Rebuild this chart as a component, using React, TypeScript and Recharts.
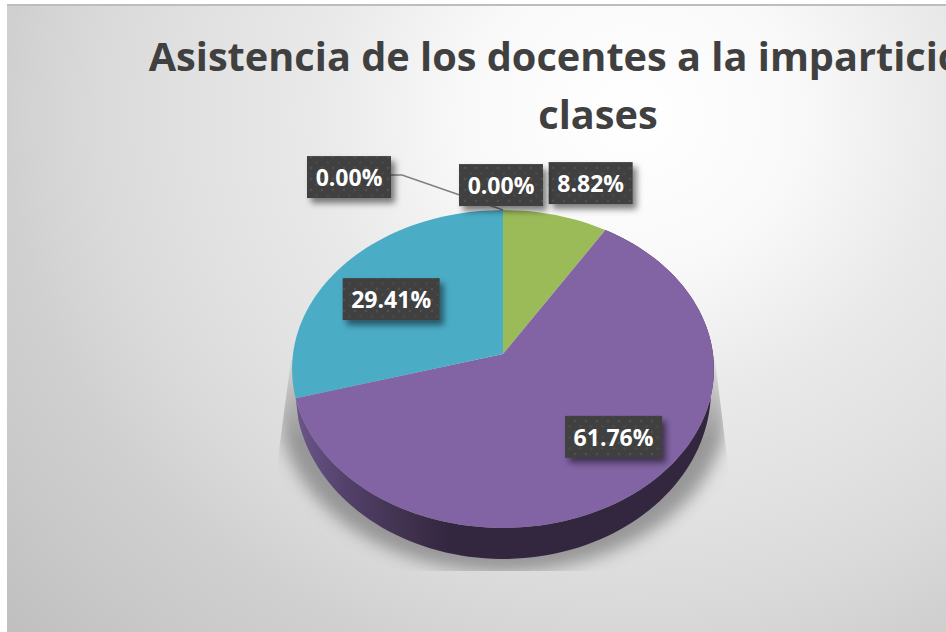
import React from "react";
import { PieChart, Pie, Cell } from "recharts";

const categories = ["Categoria 1", "Categoria 2", "Categoria 3", "Categoria 4", "Categoria 5"];
const shares = [8.82, 61.76, 29.41, 0, 0];
const sliceColors = ["#9BBB59", "#8264A4", "#4BACC6", "#F79646", "#2C4D75"];
const titleLines = ["Asistencia de los docentes a la impartición de", "clases"];

const data = categories.map((name, i) => ({ name, value: shares[i] }));

// projection of the flat pie onto the tilted 3D disc
const TILT = 0.75;
const PERSPECTIVE = 0.0943;
const BASE_RADIUS = 0.986;
const BASE_TILT = 0.809;
const BASE_DROP = 20;

// label anchor along the radius, then a nudge in px
const labelPlacement = [
  { f: 1, dx: 35, dy: -32 },
  { f: 0.7, dx: 17, dy: -10 },
  { f: 0.7, dx: 1, dy: 9 },
  { f: 1, dx: -154, dy: -33 },
  { f: 1, dx: -2, dy: -25 },
];

function project(angle: number, radius: number, tiltedBy: number, cx: number, cy: number, f = 1) {
  const a = (angle * Math.PI) / 180;
  const u = Math.cos(a) * f;
  const v = -Math.sin(a) * f;
  const w = 1 - PERSPECTIVE * v;
  return { x: cx + (radius * u) / w, y: cy + (radius * tiltedBy * v) / w };
}

function arcPoints(start: number, end: number, radius: number, tiltedBy: number, cx: number, cy: number) {
  const n = Math.max(2, Math.ceil(Math.abs(end - start) / 2));
  const pts = [];
  for (let i = 0; i <= n; i++) {
    const p = project(start + ((end - start) * i) / n, radius, tiltedBy, cx, cy);
    pts.push(`${p.x.toFixed(2)} ${p.y.toFixed(2)}`);
  }
  return pts;
}

function Slice3D(props: any) {
  const { cx, cy, outerRadius, startAngle, endAngle, fill, index } = props;
  if (startAngle === endAngle) return null;
  const top = arcPoints(startAngle, endAngle, outerRadius, TILT, cx, cy);
  const base = arcPoints(endAngle, startAngle, outerRadius * BASE_RADIUS, BASE_TILT, cx, cy + BASE_DROP);
  return (
    <g>
      {index === 1 && <path d={`M${top.join("L")}L${base.join("L")}Z`} fill="url(#wallShade)" />}
      <path d={`M${cx} ${cy}L${top.join("L")}Z`} fill={fill} />
    </g>
  );
}

function DataLabel(props: any) {
  const { cx, cy, midAngle, outerRadius, index, value } = props;
  const place = labelPlacement[index];
  const p = project(midAngle, outerRadius, TILT, cx, cy, place.f);
  const x = p.x + place.dx;
  const y = p.y + place.dy;
  const text = `${Number(value).toFixed(2)}%`;
  const w = text.length * 13 + 19;
  const rim = project(midAngle, outerRadius, TILT, cx, cy);
  return (
    <g>
      {index === 3 && (
        <polyline
          points={`${x + w / 2} ${y - 2} ${x + w / 2 + 11} ${y - 2} ${rim.x} ${rim.y}`}
          fill="none"
          stroke="#7f7f7f"
          strokeWidth={1.5}
        />
      )}
      <rect x={x - w / 2} y={y - 21} width={w} height={42} fill="#404040" filter="url(#boxShadow)" />
      <rect x={x - w / 2} y={y - 21} width={w} height={42} fill="url(#boxDots)" />
      <text
        x={x}
        y={y + 9}
        textAnchor="middle"
        fill="#ffffff"
        fontFamily="'Open Sans', sans-serif"
        fontWeight={700}
        fontSize={23}
      >
        {text}
      </text>
    </g>
  );
}

export default function App() {
  return (
    <div style={{ position: "absolute", left: 0, top: 0, width: 946, height: 632, overflow: "hidden", background: "#ffffff" }}>
      <div
        style={{
          position: "absolute",
          left: 7,
          top: 4,
          width: 939,
          height: 626,
          borderTop: "2px solid #bdbdbd",
          background:
            "radial-gradient(ellipse 836px 760px at 626px 110px, #ffffff 0%, #f9f9f9 20%, #e9e9e9 38%, #e1e1e1 53%, #dadada 64%, #d4d4d4 71%, #d0d0d0 75%, #c9c9c9 87%, #c0c0c0 100%)",
        }}
      />
      <div style={{ position: "absolute", left: 0, top: 0 }}>
        <PieChart width={946} height={632} margin={{ top: 0, right: 0, bottom: 0, left: 0 }}>
          <defs>
            <linearGradient id="wallShade" gradientUnits="userSpaceOnUse" x1="297" y1="0" x2="450" y2="0">
              <stop offset="0" stopColor="#6b5589" />
              <stop offset="0.35" stopColor="#513f67" />
              <stop offset="0.7" stopColor="#41324f" />
              <stop offset="1" stopColor="#33263f" />
            </linearGradient>
            <pattern id="boxDots" width="11" height="11" patternUnits="userSpaceOnUse">
              <circle cx="3" cy="3" r="1.3" fill="#505050" />
              <circle cx="8.5" cy="8.5" r="1.3" fill="#4a4a4a" />
            </pattern>
            <filter id="boxShadow" x="-20%" y="-30%" width="150%" height="170%">
              <feDropShadow dx="4" dy="5" stdDeviation="3" floodColor="#000000" floodOpacity="0.5" />
            </filter>
            <filter id="pieShadow" x="-10%" y="-10%" width="120%" height="120%">
              <feGaussianBlur stdDeviation="8" />
            </filter>
            <linearGradient id="shadowFade" gradientUnits="userSpaceOnUse" x1="0" y1="360" x2="0" y2="440">
              <stop offset="0" stopColor="#333333" />
              <stop offset="1" stopColor="#ffffff" />
            </linearGradient>
            <mask id="shadowMask" maskUnits="userSpaceOnUse" x="260" y="340" width="490" height="231">
              <rect x="260" y="340" width="490" height="231" fill="url(#shadowFade)" />
            </mask>
            <clipPath id="shadowClip">
              <polygon points="291,360 715,360 728,465 735,571 270,571 277,465" />
            </clipPath>
          </defs>
          <g clipPath="url(#shadowClip)">
            <g mask="url(#shadowMask)">
              <ellipse cx={503} cy={406} rx={224} ry={166} fill="#8a8a8a" opacity={0.85} filter="url(#pieShadow)" />
            </g>
          </g>
          {titleLines.map((line, i) => (
            <text
              key={line}
              x={598}
              y={71 + i * 58}
              textAnchor="middle"
              fill="#404040"
              fontFamily="'Open Sans', sans-serif"
              fontWeight={700}
              fontSize={39.7}
            >
              {line}
            </text>
          ))}
          <Pie
            data={data}
            dataKey="value"
            nameKey="name"
            cx={503}
            cy={354}
            outerRadius={210}
            startAngle={90}
            endAngle={-270}
            stroke="none"
            shape={Slice3D}
            label={DataLabel}
            labelLine={false}
            isAnimationActive={false}
          >
            {data.map((d, i) => (
              <Cell key={d.name} fill={sliceColors[i]} />
            ))}
          </Pie>
        </PieChart>
      </div>
    </div>
  );
}
